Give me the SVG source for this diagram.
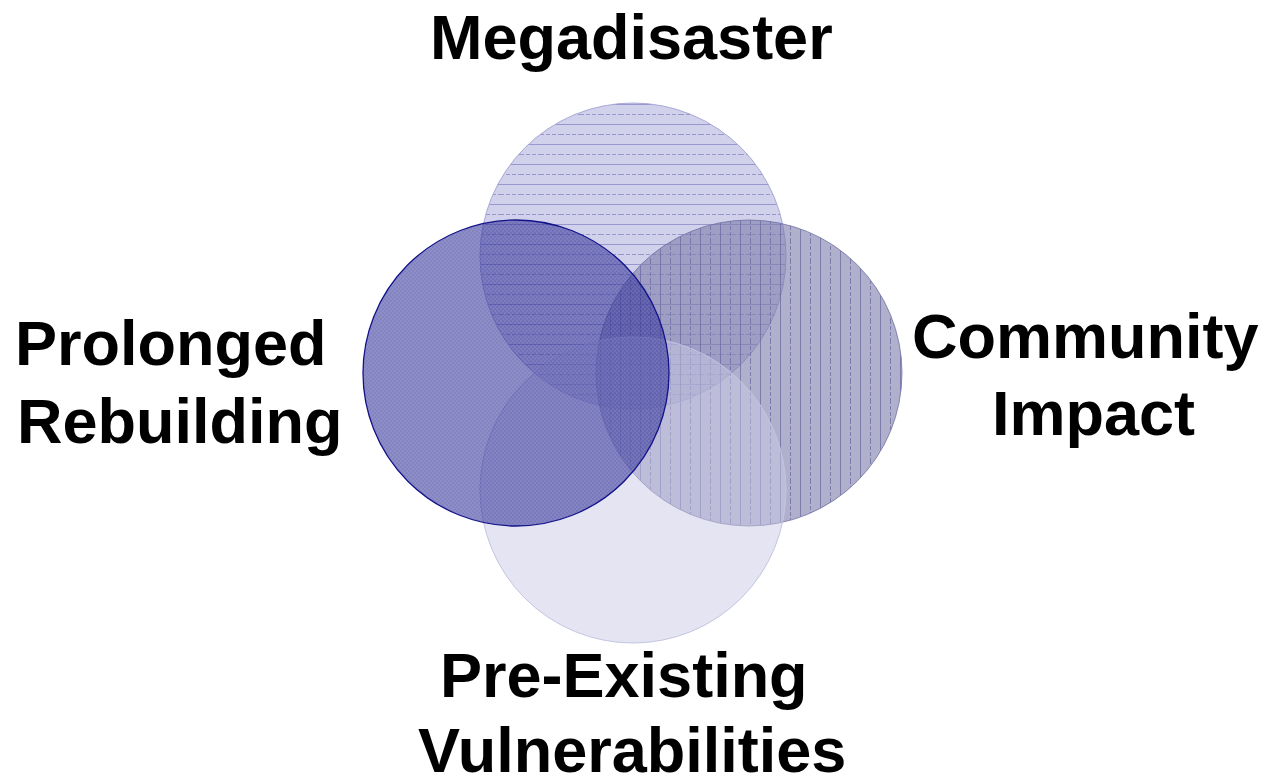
<svg xmlns="http://www.w3.org/2000/svg" width="1267" height="778" viewBox="0 0 1267 778">
<style>
.lbl{font-family:"Liberation Sans",Arial,sans-serif;font-weight:bold;font-size:63px;fill:#000}
</style>
<defs>
<pattern id="hl" patternUnits="userSpaceOnUse" x="0" y="104" width="20" height="20">
<line x1="0" y1="0.5" x2="20" y2="0.5" stroke="#8a8ac6" stroke-width="1"/>
<line x1="0" y1="10.5" x2="20" y2="10.5" stroke="#8a8ac6" stroke-width="1" stroke-dasharray="4 2"/>
</pattern>
<pattern id="vl" patternUnits="userSpaceOnUse" x="600" y="0" width="20" height="20">
<line x1="0.5" y1="0" x2="0.5" y2="20" stroke="#6a6aa2" stroke-width="1"/>
<line x1="10.5" y1="0" x2="10.5" y2="20" stroke="#6a6aa2" stroke-width="1" stroke-dasharray="4 2"/>
</pattern>
<pattern id="ck" patternUnits="userSpaceOnUse" width="4" height="4">
<rect x="0" y="0" width="2" height="2" fill="#ffffff" fill-opacity="0.08"/>
<rect x="2" y="2" width="2" height="2" fill="#ffffff" fill-opacity="0.08"/>
</pattern>
</defs>
<g id="node-megadisaster">
<circle cx="633" cy="256" r="153" fill="#b8b8e0" fill-opacity="0.65"/>
<circle cx="633" cy="256" r="153" fill="url(#hl)" opacity="0.8" stroke="#9a9ad0" stroke-width="1"/>
</g>
<g id="node-community">
<circle cx="749" cy="373" r="153" fill="#7b7baa" fill-opacity="0.6"/>
<circle cx="749" cy="373" r="153" fill="url(#vl)" opacity="0.75" stroke="#6a6aa0" stroke-width="1"/>
</g>
<g id="node-preexisting">
<circle cx="633" cy="490" r="153" fill="#c9c9e5" fill-opacity="0.5" stroke="#c4c4e2" stroke-width="1"/>
</g>
<g id="node-prolonged">
<circle cx="516" cy="373" r="153" fill="#2b2b96" fill-opacity="0.58"/>
<circle cx="516" cy="373" r="153" fill="url(#ck)" stroke="#12128a" stroke-width="1.3"/>
</g>
<g id="connectors"></g>
<g id="labels">
<text class="lbl" x="430" y="59">Megadisaster</text>
<text class="lbl" x="15" y="365">Prolonged</text>
<text class="lbl" x="17" y="443">Rebuilding</text>
<text class="lbl" x="912" y="358">Community</text>
<text class="lbl" x="992" y="435">Impact</text>
<text class="lbl" x="440" y="697">Pre-Existing</text>
<text class="lbl" x="418" y="772">Vulnerabilities</text>
</g>
</svg>
